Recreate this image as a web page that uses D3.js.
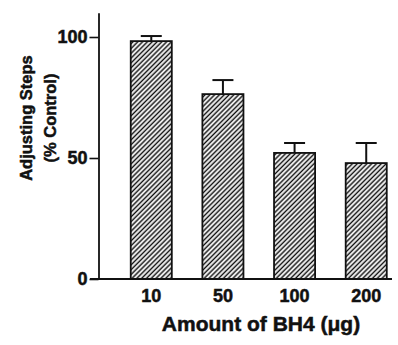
<!DOCTYPE html>
<html>
<head>
<meta charset="utf-8">
<script src="https://cdn.jsdelivr.net/npm/d3@7"></script>
<style>
  body { margin: 0; background: #fff; }
  text { font-family: "Liberation Sans", Arial, sans-serif; font-weight: bold; fill: #111; stroke: #111; stroke-width: 0.5px; }
</style>
</head>
<body>
<div id="chart"></div>
<script>
// Data
const doses = ["10", "50", "100", "200"];
const means = [98.3, 76.4, 52.1, 47.9];
const sems = [2.1, 5.8, 4.1, 8.3];
const yTicks = [0, 50, 100];

const W = 398, H = 345;

const svg = d3.select("#chart").append("svg")
    .attr("width", W)
    .attr("height", H);

// hatch pattern for the bars
const defs = svg.append("defs");
defs.append("pattern")
    .attr("id", "hatch")
    .attr("patternUnits", "userSpaceOnUse")
    .attr("width", 3.4)
    .attr("height", 3.4)
    .attr("patternTransform", "rotate(45)")
  .append("line")
    .attr("x1", 1.2).attr("y1", 0)
    .attr("x2", 1.2).attr("y2", 3.4)
    .attr("stroke", "#111")
    .attr("stroke-width", 1.5);

// scales
const x = d3.scaleBand()
    .domain(doses)
    .range([120, 397.5])
    .paddingInner(0.427)
    .paddingOuter(0.15);

const y = d3.scaleLinear()
    .domain([0, 110])
    .range([279, 12.8]);

const axisX = 98.5;

// Y axis
svg.append("g")
    .attr("transform", "translate(" + axisX + ",0)")
    .call(d3.axisLeft(y).tickValues(yTicks).tickSize(9).tickSizeOuter(0).tickPadding(2))
    .call(g => g.select(".domain").attr("stroke", "#111").attr("stroke-width", 1.8))
    .call(g => g.selectAll(".tick line").attr("stroke", "#111").attr("stroke-width", 1.6))
    .call(g => g.selectAll(".tick text").attr("font-size", 18).attr("fill", "#111")
        .style("font-family", "Liberation Sans, Arial, sans-serif").style("font-weight", "bold"));

// bars
svg.append("g")
    .selectAll("rect")
    .data(doses)
    .enter()
    .append("rect")
    .attr("x", d => x(d))
    .attr("y", (d, i) => y(means[i]))
    .attr("width", x.bandwidth())
    .attr("height", (d, i) => y(0) - y(means[i]))
    .attr("fill", "url(#hatch)")
    .attr("stroke", "#111")
    .attr("stroke-width", 1.8);

// error bars (upper only)
const errs = svg.append("g").attr("stroke", "#111");
errs.selectAll(".stem")
    .data(doses)
    .enter()
    .append("line")
    .attr("x1", d => x(d) + x.bandwidth() / 2)
    .attr("x2", d => x(d) + x.bandwidth() / 2)
    .attr("y1", (d, i) => y(means[i]))
    .attr("y2", (d, i) => y(means[i] + sems[i]))
    .attr("stroke-width", 2);
errs.selectAll(".cap")
    .data(doses)
    .enter()
    .append("line")
    .attr("x1", d => x(d) + x.bandwidth() / 2 - 10.5)
    .attr("x2", d => x(d) + x.bandwidth() / 2 + 10.5)
    .attr("y1", (d, i) => y(means[i] + sems[i]))
    .attr("y2", (d, i) => y(means[i] + sems[i]))
    .attr("stroke-width", 2);

// X axis
svg.append("line")
    .attr("x1", 90).attr("x2", 392)
    .attr("y1", y(0)).attr("y2", y(0))
    .attr("stroke", "#111")
    .attr("stroke-width", 1.8);

svg.append("g")
    .attr("transform", "translate(0," + y(0) + ")")
    .call(d3.axisBottom(x).tickSize(0).tickPadding(10))
    .call(g => g.select(".domain").remove())
    .call(g => g.selectAll(".tick text").attr("font-size", 18).attr("fill", "#111")
        .style("font-family", "Liberation Sans, Arial, sans-serif").style("font-weight", "bold"));

// axis titles
svg.append("text")
    .attr("x", 261)
    .attr("y", 331)
    .attr("text-anchor", "middle")
    .attr("font-size", 21)
    .text("Amount of BH4 (\u03bcg)");

const yTitle = svg.append("text")
    .attr("transform", "translate(32,118) rotate(-90)")
    .attr("text-anchor", "middle")
    .attr("font-size", 16.5);
yTitle.append("tspan").attr("x", 0).attr("y", 0).text("Adjusting Steps");
yTitle.append("tspan").attr("x", 0).attr("y", 23.5).text("(% Control)");
</script>
</body>
</html>
